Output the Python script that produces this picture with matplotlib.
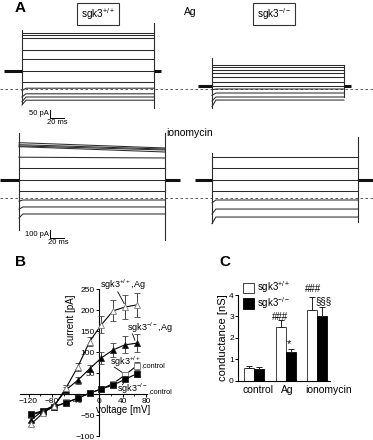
import matplotlib.pyplot as plt
from matplotlib.patches import Patch

plt.rcParams.update(
    {
        "font.family": "Liberation Sans",
        "mathtext.fontset": "custom",
        "mathtext.rm": "Liberation Sans",
        "mathtext.it": "Liberation Sans:italic",
        "mathtext.bf": "Liberation Sans:bold",
        "axes.linewidth": 0.8,
    }
)

W, H = 373, 440
TRACE = "#2b2b2b"

# ---- panel A: whole-cell current traces (pA), one entry per voltage step ----
AG_PULSE_MS = 200
AG_WT_HOLD = 112
AG_WT_ONSET = [350, 335, 320, 245, 190, 112, 45, -10, -50, -80, -100]
AG_WT_LEVEL = [350, 335, 320, 245, 190, 112, 45, 5, -30, -50, -70]
AG_WT_SPIKE_ON = [369, -88]
AG_WT_SPIKE_OFF = [412, -119]

AG_KO_HOLD = 19
AG_KO_ONSET = [150, 137, 119, 100, 75, 44, 19, -5, -40, -75, -110]
AG_KO_LEVEL = [150, 137, 119, 100, 75, 44, 19, 0, -25, -50, -69]
AG_KO_SPIKE_ON = [194, -119]
AG_KO_SPIKE_OFF = [150, -50]

IONO_PULSE_MS = 225
IONO_WT_HOLD = 225
IONO_WT_ONSET = [690, 665, 650, 640, 510, 375, 225, 88, -40, -140, -250]
IONO_WT_EARLY = [690, 665, 650, 640, 510, 375, 225, 88, -25, -112, -200]
IONO_WT_LATE = [625, 612, 600, 575, 500, 375, 225, 88, -25, -112, -200]
IONO_WT_SPIKE_ON = [812, -400]
IONO_WT_SPIKE_OFF = [812, -525]

IONO_KO_HOLD = 225
IONO_KO_ONSET = [512, 375, 225, 88, -60, -200, -320]
IONO_KO_LEVEL = [512, 375, 225, 88, -25, -138, -238]
IONO_KO_SPIKE_ON = [562, -312]
IONO_KO_SPIKE_OFF = [762, -300]

# ---- panel B: I/V relation ----
VOLTAGE = [-116, -96, -76, -56, -36, -16, 4, 24, 44, 64]
WT_AG = [-72, -46, -28, 15, 65, 125, 165, 198, 207, 212]
WT_AG_ERR = [5, 5, 5, 6, 10, 10, 20, 25, 28, 28]
KO_AG = [-62, -40, -27, 10, 33, 60, 86, 105, 117, 121]
KO_AG_ERR = [4, 4, 4, 6, 8, 8, 14, 17, 20, 22]
WT_CTRL = [-50, -42, -30, -20, -10, 2, 12, 25, 45, 67]
WT_CTRL_ERR = [4, 4, 4, 3, 3, 3, 4, 5, 8, 10]
KO_CTRL = [-48, -40, -30, -21, -10, 2, 12, 21, 35, 48]
KO_CTRL_ERR = [3, 3, 3, 3, 3, 3, 3, 4, 5, 7]

# ---- panel C: conductance ----
GROUPS = ["control", "Ag", "ionomycin"]
COND_WT = [0.6, 2.5, 3.3]
COND_WT_ERR = [0.07, 0.33, 0.6]
COND_KO = [0.53, 1.33, 3.0]
COND_KO_ERR = [0.09, 0.16, 0.42]


def px_axes(fig, x0, y0, x1, y1):
    return fig.add_axes([x0 / W, 1 - y1 / H, (x1 - x0) / W, (y1 - y0) / H])


def trace_axes(fig, t0_px, zero_px, px_per_ms, px_per_pa):
    # full-figure axes whose data coords are ms / pA
    ax = fig.add_axes([0, 0, 1, 1])
    ax.set_xlim(-t0_px / px_per_ms, (W - t0_px) / px_per_ms)
    ax.set_ylim(-(H - zero_px) / px_per_pa, zero_px / px_per_pa)
    ax.axis("off")
    ax.patch.set_visible(False)
    return ax


def draw_traces(ax, pulse, hold, hold_from, hold_to, onset, early, late, spike_on, spike_off):
    for a, b, c in zip(onset, early, late):
        ax.plot([0, 6, pulse], [a, b, c], color=TRACE, lw=0.75)
    ax.plot([0, 0], spike_on, color=TRACE, lw=0.8)
    ax.plot([pulse, pulse], spike_off, color=TRACE, lw=0.8)
    ax.plot([hold_from, 0], [hold, hold], color="#111111", lw=2.2, solid_capstyle="butt")
    ax.plot([pulse, hold_to], [hold, hold], color="#111111", lw=2.2, solid_capstyle="butt")


def scale_bar(ax, t, pa_top, pa_len, ms_len, label):
    ax.plot([t, t], [pa_top, pa_top - pa_len], color="k", lw=0.7)
    ax.plot([t + 2, t + 2 + ms_len], [pa_top - pa_len] * 2, color="k", lw=0.7)
    ax.text(t - 2, pa_top - pa_len / 2, label, fontsize=5.5, ha="right", va="center")
    ax.text(t + 2 + ms_len / 2, pa_top - pa_len * 1.1, f"{ms_len} ms", fontsize=5.5,
            ha="center", va="top")


fig = plt.figure(figsize=(W / 100, H / 100), dpi=100)

# row 1: Ag
ag_left = trace_axes(fig, 22, 89, 0.66, 0.16)
ag_right = trace_axes(fig, 212, 89, 0.66, 0.16)
draw_traces(ag_left, AG_PULSE_MS, AG_WT_HOLD, -27, 11 + AG_PULSE_MS,
            AG_WT_ONSET, AG_WT_LEVEL, AG_WT_LEVEL, AG_WT_SPIKE_ON, AG_WT_SPIKE_OFF)
draw_traces(ag_right, AG_PULSE_MS, AG_KO_HOLD, -21, 11 + AG_PULSE_MS,
            AG_KO_ONSET, AG_KO_LEVEL, AG_KO_LEVEL, AG_KO_SPIKE_ON, AG_KO_SPIKE_OFF)
ag_left.axhline(0, color="#444444", lw=0.6, ls=(0, (3, 3)))
scale_bar(ag_left, 42, -131, 50, 20, "50 pA")

# row 2: ionomycin
io_left = trace_axes(fig, 19, 198, 0.65, 0.08)
io_right = trace_axes(fig, 212, 198, 0.65, 0.08)
draw_traces(io_left, IONO_PULSE_MS, IONO_WT_HOLD, -29, 22 + IONO_PULSE_MS,
            IONO_WT_ONSET, IONO_WT_EARLY, IONO_WT_LATE, IONO_WT_SPIKE_ON, IONO_WT_SPIKE_OFF)
draw_traces(io_right, IONO_PULSE_MS, IONO_KO_HOLD, -26, 24 + IONO_PULSE_MS,
            IONO_KO_ONSET, IONO_KO_LEVEL, IONO_KO_LEVEL, IONO_KO_SPIKE_ON, IONO_KO_SPIKE_OFF)
io_left.axhline(0, color="#444444", lw=0.6, ls=(0, (3, 3)))
scale_bar(io_left, 48, -400, 100, 20, "100 pA")


def ftext(x, y, s, **kw):
    fig.text(x / W, 1 - y / H, s, **kw)


box = dict(boxstyle="square,pad=0.35", fc="white", ec="#333333", lw=0.8)
ftext(20, 8, "A", fontsize=11, fontweight="bold", ha="center", va="center")
ftext(98, 14, r"sgk3$^{\mathrm{+/+}}$", fontsize=7.2, ha="center", va="center", bbox=box)
ftext(274, 14, r"sgk3$^{\mathrm{-/-}}$", fontsize=7.2, ha="center", va="center", bbox=box)
ftext(190, 12, "Ag", fontsize=7.5, ha="center", va="center")
ftext(166, 133, "ionomycin", fontsize=7.5, ha="left", va="center")
ftext(20, 262, "B", fontsize=11, fontweight="bold", ha="center", va="center")
ftext(225, 262, "C", fontsize=11, fontweight="bold", ha="center", va="center")

# ---- panel B ----
axB = px_axes(fig, 20.3, 289, 147.2, 436)
axB.set_xlim(-134, 82)
axB.set_ylim(-100, 250)
axB.spines["left"].set_position(("data", 0))
axB.spines["bottom"].set_position(("data", 0))
axB.spines["top"].set_visible(False)
axB.spines["right"].set_visible(False)
axB.patch.set_visible(False)
axB.set_axisbelow(True)
axB.set_xticks([-120, -80, -40, 0, 40, 80])
axB.set_xticks([-100, -60, -20, 20, 60], minor=True)
axB.set_yticks([-100, -50, 50, 100, 150, 200, 250])
axB.tick_params(labelsize=6, length=2, width=0.7, pad=1)
axB.tick_params(which="minor", length=1.5, width=0.6)

series = [
    (WT_CTRL, WT_CTRL_ERR, "s", "white", 4),
    (KO_CTRL, KO_CTRL_ERR, "s", "black", 4),
    (KO_AG, KO_AG_ERR, "^", "black", 4.8),
    (WT_AG, WT_AG_ERR, "^", "white", 4.8),
]
for values, err, marker, face, size in series:
    axB.errorbar(VOLTAGE, values, yerr=err, color="black", ecolor="#444444",
                 elinewidth=0.7, capsize=2, capthick=0.7, lw=0.8, marker=marker,
                 ms=size, mfc=face, mec="#222222" if face == "black" else "#777777",
                 mew=0.6, clip_on=False, zorder=3)

axB.text(0.40, 0.79, "current [pA]", transform=axB.transAxes, rotation=90,
         fontsize=7, ha="center", va="center")
axB.text(0.81, 0.177, "voltage [mV]", transform=axB.transAxes, fontsize=7,
         ha="center", va="center")

ann = dict(fontsize=6.5, va="center", ha="left")
axB.text(2, 259, r"sgk3$^{\mathrm{+/+}}$,Ag", **ann)
axB.plot([32, 43], [243, 215], color="k", lw=0.6)
axB.text(48, 157, r"sgk3$^{\mathrm{-/-}}$,Ag", **ann)
axB.plot([57, 61], [143, 128], color="k", lw=0.6)
wt_ctrl_label = axB.text(19, 76, r"sgk3$^{\mathrm{+/+}}$", **ann)
axB.annotate(",control", xy=(1, 0), xycoords=wt_ctrl_label, xytext=(0, 0.5),
             textcoords="offset points", fontsize=5.2, ha="left", va="bottom")
axB.plot([26, 41], [64, 50], color="k", lw=0.6)
ko_ctrl_label = axB.text(31, 12, r"sgk3$^{\mathrm{-/-}}$", **ann)
axB.annotate(",control", xy=(1, 0), xycoords=ko_ctrl_label, xytext=(0, 0.5),
             textcoords="offset points", fontsize=5.2, ha="left", va="bottom")
axB.plot([40, 44], [22, 32], color="k", lw=0.6)

# ---- panel C ----
axC = px_axes(fig, 238, 295, 330, 380.5)
axC.set_xlim(-0.508, 2.41)
axC.set_ylim(0, 4)
width = 0.317
xs = list(range(len(GROUPS)))
x_wt = [x - width / 2 for x in xs]
x_ko = [x + width / 2 for x in xs]
axC.bar(x_wt, COND_WT, width, color="white", edgecolor="#222222", lw=0.6)
axC.bar(x_ko, COND_KO, width, color="black", edgecolor="black", lw=0.6)
axC.errorbar(x_wt, COND_WT, yerr=[[0] * 3, COND_WT_ERR], fmt="none", ecolor="#222222",
             elinewidth=0.7, capsize=2, capthick=0.7, clip_on=False)
axC.errorbar(x_ko, COND_KO, yerr=[[0] * 3, COND_KO_ERR], fmt="none", ecolor="#222222",
             elinewidth=0.7, capsize=2, capthick=0.7, clip_on=False)
axC.spines["top"].set_visible(False)
axC.spines["right"].set_visible(False)
axC.patch.set_visible(False)
axC.set_yticks([0, 1, 2, 3, 4])
# category labels sit slightly right of the bar pairs in the original
axC.set_xticks([0.13, 1.06, 2.38], GROUPS)
axC.tick_params(axis="y", labelsize=6, length=2, width=0.7, pad=1)
axC.tick_params(axis="x", labelsize=7.5, length=0, pad=3)
axC.set_ylabel("conductance [nS]", fontsize=8, labelpad=1)

axC.text(0.83, 2.99, "###", fontsize=7, ha="center", va="center")
axC.text(1.12, 1.72, "*", fontsize=8, ha="center", va="center")
axC.text(1.87, 4.26, "###", fontsize=7, ha="center", va="center", clip_on=False)
axC.text(2.19, 3.69, "§§§", fontsize=7, ha="center", va="center")

handles = [
    Patch(facecolor="white", edgecolor="#222222", lw=0.6, label=r"sgk3$^{\mathrm{+/+}}$"),
    Patch(facecolor="black", edgecolor="black", lw=0.6, label=r"sgk3$^{\mathrm{-/-}}$"),
]
axC.legend(handles=handles, loc="upper left", bbox_to_anchor=(0.054, 1.185),
           frameon=False, fontsize=7, handlelength=1.1, handleheight=1.25,
           labelspacing=0.0, handletextpad=0.3, borderpad=0, borderaxespad=0)

fig.savefig("out.png", dpi=100)
